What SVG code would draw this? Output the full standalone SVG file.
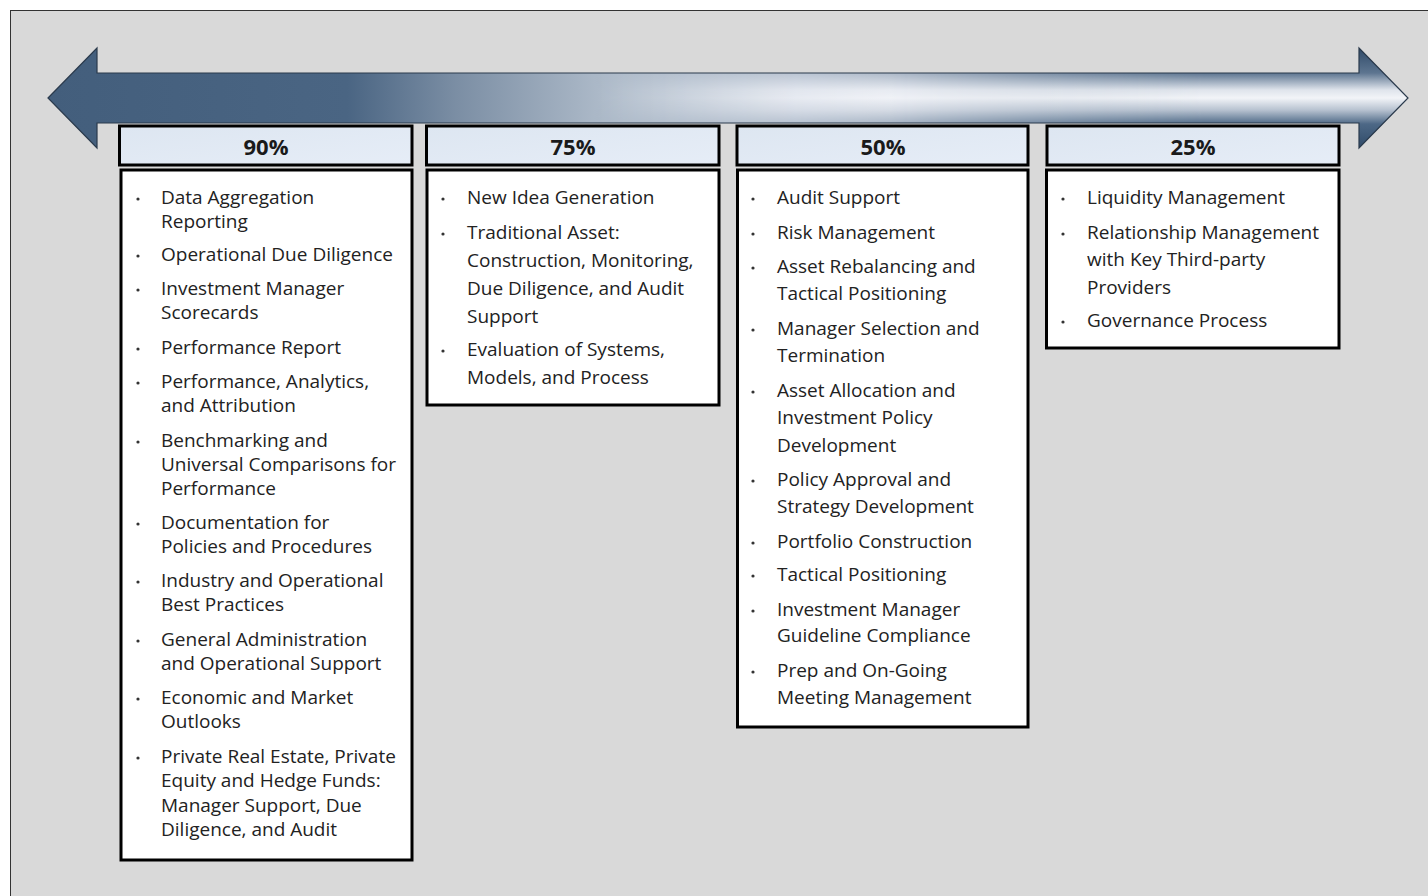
<svg xmlns="http://www.w3.org/2000/svg" width="1428" height="896" viewBox="0 0 1428 896">
<defs>
<linearGradient id="gH" x1="48" y1="0" x2="1408" y2="0" gradientUnits="userSpaceOnUse">
<stop offset="0" stop-color="#435e7c"/>
<stop offset="0.22" stop-color="#4a6583"/>
<stop offset="0.3" stop-color="#7b8ea4"/>
<stop offset="0.42" stop-color="#b3bfcd"/>
<stop offset="0.55" stop-color="#e3e7ef"/>
<stop offset="0.62" stop-color="#eef0f6"/>
<stop offset="0.75" stop-color="#c9d1dc"/>
<stop offset="1" stop-color="#8a9bb0"/>
</linearGradient>
<linearGradient id="gV" x1="0" y1="48" x2="0" y2="148" gradientUnits="userSpaceOnUse">
<stop offset="0" stop-color="#2f4a68"/>
<stop offset="0.25" stop-color="#5d7590"/>
<stop offset="0.42" stop-color="#dfe4ec"/>
<stop offset="0.5" stop-color="#f2f4f8"/>
<stop offset="0.62" stop-color="#b7c2d0"/>
<stop offset="0.76" stop-color="#4d6886"/>
<stop offset="1" stop-color="#2f4a68"/>
</linearGradient>
<linearGradient id="gM" x1="48" y1="0" x2="1408" y2="0" gradientUnits="userSpaceOnUse">
<stop offset="0" stop-color="#000"/>
<stop offset="0.4" stop-color="#000"/>
<stop offset="0.6" stop-color="#666"/>
<stop offset="0.85" stop-color="#fff"/>
<stop offset="1" stop-color="#fff"/>
</linearGradient>
<mask id="mk" maskUnits="userSpaceOnUse" x="0" y="0" width="1428" height="200">
<rect x="0" y="0" width="1428" height="200" fill="url(#gM)"/>
</mask>
<linearGradient id="gHead" x1="0" y1="0" x2="1" y2="1">
<stop offset="0" stop-color="#dde6f1"/>
<stop offset="1" stop-color="#e6edf7"/>
</linearGradient>
<style>
.hd{fill:url(#gHead);stroke:#000;stroke-width:3}
.bd{fill:#fff;stroke:#000;stroke-width:3}
.ht{font-family:"Open Sans","Noto Sans",sans-serif;font-weight:bold;font-size:22px;fill:#1a1a1a;text-anchor:middle}
.t{font-family:"Open Sans","Noto Sans",sans-serif;font-size:19px;fill:#222}
.b{fill:#333}
</style>
</defs>
<rect x="0" y="0" width="1428" height="896" fill="#fff"/>
<rect x="10.5" y="10.5" width="1440" height="900" fill="#d9d9d9" stroke="#333" stroke-width="1"/>

<g id="arrow">
<path d="M48,98 L97,48 L97,73 L1359,73 L1359,48 L1408,98 L1359,148 L1359,123 L97,123 L97,148 Z" fill="url(#gH)"/>
<path d="M48,98 L97,48 L97,73 L1359,73 L1359,48 L1408,98 L1359,148 L1359,123 L97,123 L97,148 Z" fill="url(#gV)" mask="url(#mk)"/>
<path d="M48,98 L97,48 L97,73 L1359,73 L1359,48 L1408,98 L1359,148 L1359,123 L97,123 L97,148 Z" fill="none" stroke="#2a3a4c" stroke-width="1.2"/>
</g>

<g id="col90">
<rect class="hd" x="119.5" y="126" width="292.5" height="39"/>
<text class="ht" x="266" y="155">90%</text>
<rect class="bd" x="121" y="170" width="291" height="690"/>
<g class="b">
<circle cx="138" cy="199" r="1.6"/><circle cx="138" cy="256" r="1.6"/><circle cx="138" cy="290" r="1.6"/><circle cx="138" cy="349" r="1.6"/><circle cx="138" cy="383" r="1.6"/><circle cx="138" cy="442" r="1.6"/><circle cx="138" cy="524" r="1.6"/><circle cx="138" cy="582" r="1.6"/><circle cx="138" cy="641" r="1.6"/><circle cx="138" cy="699" r="1.6"/><circle cx="138" cy="758" r="1.6"/>
</g>
<text class="t" x="161" y="204">Data Aggregation</text>
<text class="t" x="161" y="228">Reporting</text>
<text class="t" x="161" y="261">Operational Due Diligence</text>
<text class="t" x="161" y="295">Investment Manager</text>
<text class="t" x="161" y="319">Scorecards</text>
<text class="t" x="161" y="354">Performance Report</text>
<text class="t" x="161" y="388">Performance, Analytics,</text>
<text class="t" x="161" y="412">and Attribution</text>
<text class="t" x="161" y="447">Benchmarking and</text>
<text class="t" x="161" y="471">Universal Comparisons for</text>
<text class="t" x="161" y="495">Performance</text>
<text class="t" x="161" y="529">Documentation for</text>
<text class="t" x="161" y="553">Policies and Procedures</text>
<text class="t" x="161" y="587">Industry and Operational</text>
<text class="t" x="161" y="611">Best Practices</text>
<text class="t" x="161" y="646">General Administration</text>
<text class="t" x="161" y="670">and Operational Support</text>
<text class="t" x="161" y="704">Economic and Market</text>
<text class="t" x="161" y="728">Outlooks</text>
<text class="t" x="161" y="763">Private Real Estate, Private</text>
<text class="t" x="161" y="787">Equity and Hedge Funds:</text>
<text class="t" x="161" y="812">Manager Support, Due</text>
<text class="t" x="161" y="836">Diligence, and Audit</text>
</g>

<g id="col75">
<rect class="hd" x="426.5" y="126" width="292.5" height="39"/>
<text class="ht" x="573" y="155">75%</text>
<rect class="bd" x="427" y="170" width="292" height="235"/>
<g class="b">
<circle cx="443" cy="199" r="1.6"/><circle cx="443" cy="234" r="1.6"/><circle cx="443" cy="351" r="1.6"/>
</g>
<text class="t" x="467" y="204">New Idea Generation</text>
<text class="t" x="467" y="239">Traditional Asset:</text>
<text class="t" x="467" y="267">Construction, Monitoring,</text>
<text class="t" x="467" y="295">Due Diligence, and Audit</text>
<text class="t" x="467" y="323">Support</text>
<text class="t" x="467" y="356">Evaluation of Systems,</text>
<text class="t" x="467" y="384">Models, and Process</text>
</g>

<g id="col50">
<rect class="hd" x="737" y="126" width="291" height="39"/>
<text class="ht" x="883" y="155">50%</text>
<rect class="bd" x="737.5" y="170" width="290.5" height="557"/>
<g class="b">
<circle cx="753" cy="199" r="1.6"/><circle cx="753" cy="234" r="1.6"/><circle cx="753" cy="268" r="1.6"/><circle cx="753" cy="330" r="1.6"/><circle cx="753" cy="392" r="1.6"/><circle cx="753" cy="481" r="1.6"/><circle cx="753" cy="543" r="1.6"/><circle cx="753" cy="576" r="1.6"/><circle cx="753" cy="611" r="1.6"/><circle cx="753" cy="672" r="1.6"/>
</g>
<text class="t" x="777" y="204">Audit Support</text>
<text class="t" x="777" y="239">Risk Management</text>
<text class="t" x="777" y="273">Asset Rebalancing and</text>
<text class="t" x="777" y="300">Tactical Positioning</text>
<text class="t" x="777" y="335">Manager Selection and</text>
<text class="t" x="777" y="362">Termination</text>
<text class="t" x="777" y="397">Asset Allocation and</text>
<text class="t" x="777" y="424">Investment Policy</text>
<text class="t" x="777" y="452">Development</text>
<text class="t" x="777" y="486">Policy Approval and</text>
<text class="t" x="777" y="513">Strategy Development</text>
<text class="t" x="777" y="548">Portfolio Construction</text>
<text class="t" x="777" y="581">Tactical Positioning</text>
<text class="t" x="777" y="616">Investment Manager</text>
<text class="t" x="777" y="642">Guideline Compliance</text>
<text class="t" x="777" y="677">Prep and On-Going</text>
<text class="t" x="777" y="704">Meeting Management</text>
</g>

<g id="col25">
<rect class="hd" x="1047" y="126" width="292" height="39"/>
<text class="ht" x="1193" y="155">25%</text>
<rect class="bd" x="1046.5" y="170" width="292.5" height="178"/>
<g class="b">
<circle cx="1063" cy="199" r="1.6"/><circle cx="1063" cy="234" r="1.6"/><circle cx="1063" cy="322" r="1.6"/>
</g>
<text class="t" x="1087" y="204">Liquidity Management</text>
<text class="t" x="1087" y="239">Relationship Management</text>
<text class="t" x="1087" y="266">with Key Third-party</text>
<text class="t" x="1087" y="294">Providers</text>
<text class="t" x="1087" y="327">Governance Process</text>
</g>
</svg>
